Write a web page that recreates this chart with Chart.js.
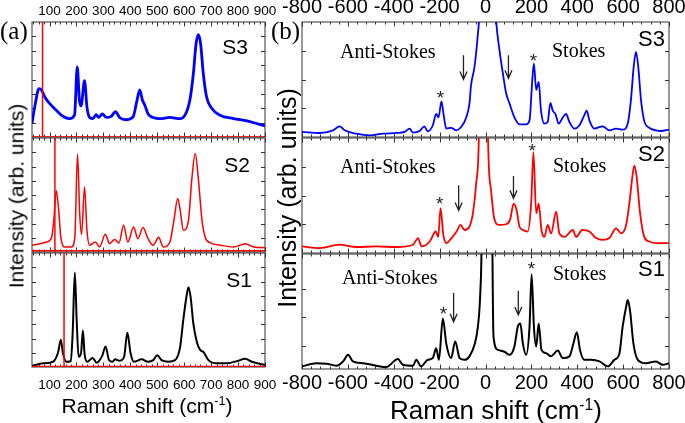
<!DOCTYPE html>
<html><head><meta charset="utf-8">
<script src="https://cdn.jsdelivr.net/npm/chart.js@4.4.1/dist/chart.umd.min.js"></script>
<style>
html,body{margin:0;padding:0;background:#fff;}
body{width:685px;height:423px;overflow:hidden;position:relative;font-family:"Liberation Sans",Arial,sans-serif;color:#000}
canvas{position:absolute;left:0;top:0}
.t{position:absolute;white-space:nowrap;line-height:1}
.serif{font-family:"Liberation Serif","Times New Roman",serif}
sup{font-size:0.6em;vertical-align:0.6em;line-height:0}
</style></head><body>
<canvas id="a3" width="720" height="423"></canvas>
<canvas id="a2" width="720" height="423"></canvas>
<canvas id="a1" width="720" height="423"></canvas>
<canvas id="b3" width="720" height="423"></canvas>
<canvas id="b2" width="720" height="423"></canvas>
<canvas id="b1" width="720" height="423"></canvas>

<div class="t serif" style="left:0px;top:18px;font-size:25px">(a)</div>
<div class="t serif" style="left:271px;top:18px;font-size:25px">(b)</div>
<div class="t" style="left:16px;top:196px;font-size:21px;transform:translate(-50%,-50%) rotate(-90deg)">Intensity (arb. units)</div>
<div class="t" style="left:287px;top:198px;font-size:25px;transform:translate(-50%,-50%) rotate(-90deg)">Intensity (arb. units)</div>
<div class="t" style="left:147px;top:395px;font-size:21px;transform:translateX(-50%)">Raman shift (cm<sup>-1</sup>)</div>
<div class="t" style="left:496px;top:397px;font-size:26px;transform:translateX(-50%)">Raman shift (cm<sup>-1</sup>)</div>

<div class="t" style="right:437px;top:36px;font-size:21px">S3</div>
<div class="t" style="right:435px;top:154px;font-size:21px">S2</div>
<div class="t" style="right:433px;top:269px;font-size:21px">S1</div>
<div class="t" style="right:20px;top:28px;font-size:22px">S3</div>
<div class="t" style="right:20px;top:143px;font-size:22px">S2</div>
<div class="t" style="right:20px;top:258px;font-size:22px">S1</div>

<div class="t serif" style="left:340px;top:41px;font-size:20px">Anti-Stokes</div>
<div class="t serif" style="left:552px;top:40px;font-size:20px">Stokes</div>
<div class="t serif" style="left:340px;top:156px;font-size:20px">Anti-Stokes</div>
<div class="t serif" style="left:553px;top:155px;font-size:20px">Stokes</div>
<div class="t serif" style="left:342px;top:267px;font-size:20px">Anti-Stokes</div>
<div class="t serif" style="left:553px;top:263px;font-size:20px">Stokes</div>

<script>
// ---------- data: panel (a), Raman shift (cm-1) vs intensity ----------
const shiftRangeA = [35, 900];
const tickStepA = 100;
const specA_S3 = [[35,12],[45,26],[61,42],[70,41],[82,35],[101,29],[126,23],[150,18],[174,16],[193,19],[203,61],[211,32],[217,27],[230,49],[239,26],[249,17],[261,16],[273,19.5],[282,17],[296,20],[311,17],[329,18],[345,22],[360,17],[385,15],[410,17.4],[425,32],[435,41],[445,32],[454,27.6],[466,20],[485,17],[510,16],[547,17],[584,16],[603,19],[621,32],[634,55],[644,81],[653,89],[661,81],[671,55],[683,35],[702,25],[733,19],[783,16],[833,14],[870,11.6],[900,9.6]];
const specA_S2 = [[35,6],[64,7.3],[89,8.8],[108,13],[117,31],[125,54],[134,37],[142,13],[158,4.4],[182,4.4],[194,13],[204,86],[212,34],[219,15.5],[230,57],[239,19],[249,6],[270,8.8],[286,4.4],[307,15.5],[323,7.3],[342,11],[358,8],[375,23.5],[391,8.8],[412,22],[428,11.7],[447,21.4],[466,11.7],[485,6],[505,13],[522,4.4],[547,8.8],[562,28],[576,47],[585,37],[597,19],[616,28],[628,63],[641,86.5],[653,63],[666,28],[678,13],[697,8],[734,6],[783,4.4],[827,7.3],[858,4.4],[900,3.8]];
const specA_S1 = [[35,1],[76,3.2],[113,4.6],[132,13],[142,24],[150,12],[163,4.6],[179,5],[186,30],[194,83],[201,40],[208,9],[217,12],[224,32],[230,12],[240,4.6],[260,8],[275,3.8],[296,10],[308,18],[321,6],[334,4.6],[343,6.7],[361,5.5],[377,9],[389,30],[401,12],[413,4.6],[442,6.7],[466,4.6],[485,6],[500,10.4],[516,6],[541,4.6],[566,6],[585,17.7],[597,42],[610,64],[616,70],[624,61],[634,38],[647,22],[659,15],[672,13],[690,6],[721,3.2],[758,3.2],[801,5.5],[826,7.2],[851,4.6],[900,1.7]];
const cutoffA = [74, 120, 154];      // red vertical markers S3, S2, S1
const baselineA = [0, 1, 0.5];       // red horizontal baselines S3, S2, S1

// ---------- data: panel (b), Stokes / anti-Stokes ----------
const shiftRangeB = [-800, 800];
const tickStepB = 200;
const specB_S3 = [[-800,4.4],[-723,3.5],[-665,5.8],[-636,9.3],[-614,5.8],[-564,2.9],[-505,1.5],[-447,2.9],[-389,3.5],[-353,4.4],[-331,7.3],[-316,3.8],[-287,5.2],[-267,9.3],[-252,5],[-230,10],[-215,20],[-205,17],[-192,31],[-183,20],[-171,7.3],[-150,8],[-128,5.8],[-106,8.7],[-84,17],[-70,29],[-63,45],[-48,61],[-33,90],[-26,110],[-15,200],[0,300],[15,250],[35,150],[47,100],[61,75.6],[76,55],[90,38],[105,29],[126,17],[148,11],[177,11],[192,14.5],[203,46.5],[211,64],[221,41],[232,48],[242,23],[257,11.6],[271,13],[283,29.6],[293,23],[305,20],[319,11.6],[337,17],[351,20],[366,13],[388,7.3],[409,10],[431,19],[441,23],[453,14.5],[474,7.3],[511,9.3],[540,5.8],[569,7.3],[598,6.4],[620,11.6],[634,32],[646,61],[656,74],[666,61],[678,32],[692,14],[714,8],[743,5.8],[765,5.2],[800,6.4]];
const specB_S2 = [[-800,5.7],[-723,4.3],[-636,7.2],[-564,5.2],[-476,5.7],[-389,5.2],[-316,7.2],[-294,13],[-279,5.7],[-243,10],[-217,18.7],[-206,14],[-196,39],[-184,16],[-170,8.6],[-148,13],[-126,18.7],[-109,24.4],[-91,20],[-70,23],[-55,34.5],[-41,60],[-29,100],[-20,250],[-5,300],[5,250],[11,100],[24,55],[38,30],[60,24.4],[90,25],[107,29],[123,43],[136,37],[148,23],[163,20],[184,18.7],[199,43],[209,87.6],[221,34.5],[232,43],[244,20],[257,14],[271,24.4],[286,17],[308,36],[322,17],[344,14],[381,20],[395,14],[422,20],[453,18.7],[482,13],[511,11.5],[540,13],[569,21.5],[591,17],[613,24.4],[627,43],[642,69],[649,76],[659,66],[674,34.5],[692,14],[714,10],[743,8.6],[800,8.6]];
const specB_S1 = [[-800,2.3],[-737,5],[-693,4.6],[-650,2.9],[-621,6.6],[-599,12.3],[-578,6.6],[-534,5],[-476,2.9],[-433,1.7],[-382,8.6],[-360,3.7],[-316,2.9],[-302,8],[-281,2.3],[-252,8],[-230,9.5],[-215,18],[-203,8],[-186,44],[-171,22],[-150,9.5],[-132,24],[-113,9.5],[-91,8],[-70,11],[-48,21],[-33,37],[-23,65],[-17,110],[-10,300],[25,300],[30,110],[35,28],[54,16.6],[83,15],[105,12.3],[126,19.5],[141,37],[152,39.5],[163,22],[177,12.3],[192,37],[201,82.5],[211,37],[221,19.5],[232,39.5],[244,16.6],[264,13.8],[286,11],[315,16],[337,9.5],[366,11],[383,22],[398,32],[412,16.6],[431,8],[460,8],[497,6.6],[533,2.3],[562,8],[584,13.8],[598,37],[613,54],[620,60],[630,51],[645,22],[664,8],[700,5],[743,6.6],[772,3.7],[800,5]];
// annotation marks (asterisks and arrows), in data units
const marksB_S3 = [{kind:'star',x:-196,y:38},{kind:'star',x:209,y:70},{kind:'arrow',x:-96,y1:71,y2:50},{kind:'arrow',x:100,y1:71,y2:51}];
const marksB_S2 = [{kind:'star',x:-200,y:47},{kind:'star',x:204,y:93},{kind:'arrow',x:-117,y1:59,y2:37},{kind:'arrow',x:122,y1:67,y2:47.5}];
const marksB_S1 = [{kind:'star',x:-183,y:52},{kind:'star',x:200,y:91},{kind:'arrow',x:-139,y1:66,y2:41},{kind:'arrow',x:143,y1:68,y2:47}];

// ---------- rendering ----------
const W = 720, H = 423;
Chart.defaults.font.family = '"Liberation Sans", Arial, sans-serif';
Chart.defaults.color = '#000';

const framePlugin = {
  id: 'frame',
  beforeDatasetsDraw(chart, args, o) {
    const {ctx, chartArea: a, scales: {x, y}} = chart;
    ctx.save();
    ctx.strokeStyle = o.color; ctx.lineWidth = o.width;
    ctx.strokeRect(a.left, a.top, a.right - a.left, a.bottom - a.top);
    ctx.beginPath();
    const start = Math.ceil(x.min / o.xMinor) * o.xMinor;
    for (let v = start; v <= x.max + 1e-9; v += o.xMinor) {
      const px = Math.round(x.getPixelForValue(v)) + 0.5;
      const r = v / o.xMajor;
      const major = Math.abs(r - Math.round(r)) < 1e-6;
      const len = major ? o.majorLen : o.minorLen;
      ctx.moveTo(px, a.top); ctx.lineTo(px, a.top + len);
      ctx.moveTo(px, a.bottom); ctx.lineTo(px, a.bottom - len);
    }
    for (const v of o.yTicks) {
      const py = Math.round(y.getPixelForValue(v)) + 0.5;
      ctx.moveTo(a.left, py); ctx.lineTo(a.left + o.yLen, py);
      ctx.moveTo(a.right, py); ctx.lineTo(a.right - o.yLen, py);
    }
    ctx.stroke();
    ctx.restore();
  },
  afterDatasetsDraw(chart, args, o) {
    const {ctx, scales: {x, y}} = chart;
    ctx.save();
    ctx.fillStyle = '#222'; ctx.strokeStyle = '#222';
    for (const m of (o.marks || [])) {
      const px = x.getPixelForValue(m.x);
      if (m.kind === 'star') {
        const fs = 19;
        ctx.font = fs + 'px "Liberation Sans", Arial, sans-serif';
        ctx.textAlign = 'center'; ctx.textBaseline = 'alphabetic';
        ctx.fillText('*', px, y.getPixelForValue(m.y) + 0.57 * fs);
      } else {
        const y1 = y.getPixelForValue(m.y1), y2 = y.getPixelForValue(m.y2);
        ctx.lineWidth = 1.3;
        ctx.beginPath();
        ctx.moveTo(px, y1); ctx.lineTo(px, y2);
        ctx.moveTo(px - 3.5, y2 - 8); ctx.lineTo(px, y2); ctx.lineTo(px + 3.5, y2 - 8);
        ctx.stroke();
      }
    }
    ctx.restore();
  }
};

function lineDs(points, color, width, smooth) {
  return {data: points, borderColor: color, borderWidth: width, pointRadius: 0, fill: false,
          tension: 0, cubicInterpolationMode: smooth ? 'monotone' : 'default'};
}

function makeChart(id, c) {
  const ticksFont = {size: c.fontSize};
  const pos = c.labelPos || 'bottom';
  // the labelled x axis occupies a fixed band; the rest of the offset is layout padding
  const axisH = c.labelPos === 'top' ? c.box.t : (c.labelPos === 'bottom' ? 40 : 0);
  const pad = {left: c.box.l, right: W - c.box.r, top: c.box.t, bottom: H - c.box.b};
  if (c.labelPos === 'top') pad.top -= axisH;
  if (c.labelPos === 'bottom') pad.bottom -= axisH;
  return new Chart(document.getElementById(id), {
    type: 'line',
    data: {datasets: c.datasets},
    options: {
      responsive: false, animation: false, devicePixelRatio: 1,
      layout: {padding: pad},
      plugins: {legend: {display: false}, tooltip: {enabled: false},
        frame: {color: '#333', width: 1, xMajor: c.xMajor, xMinor: c.xMinor, majorLen: 4.5, minorLen: 2.5,
                yTicks: c.yTicks, yLen: 4, marks: c.marks}},
      scales: {
        x: {type: 'linear', min: c.xRange[0], max: c.xRange[1], position: pos,
            afterFit(s) { s.height = axisH; },
            grid: {display: false, drawTicks: false}, border: {display: false},
            ticks: {display: !!c.labelPos, stepSize: c.xMajor, includeBounds: false, autoSkip: false,
                    maxRotation: 0, font: ticksFont, color: '#000', padding: c.labelPad || 0}},
        y: {type: 'linear', min: c.yMin, max: c.yMax, afterFit(s) { s.width = 0; },
            grid: {display: false, drawTicks: false}, border: {display: false}, ticks: {display: false}}
      }
    },
    plugins: [framePlugin]
  });
}

const boxA = [{l:32,r:265,t:22,b:137},{l:32,r:265,t:138,b:252},{l:32,r:265,t:253,b:367}];
const boxB = [{l:302,r:669,t:22,b:137},{l:302,r:669,t:138,b:253},{l:302,r:669,t:254,b:369}];
const specsA = [specA_S3, specA_S2, specA_S1];
const colorsA = ['#0000ff', '#ff0000', '#000000'];
const widthsA = [2.8, 1.5, 2];
['a3','a2','a1'].forEach((id, i) => {
  makeChart(id, {
    box: boxA[i], xRange: shiftRangeA, xMajor: tickStepA, xMinor: 20, yMin: 0, yMax: 100,
    yTicks: [12.5, 25, 37.5, 50, 62.5, 75, 87.5],
    labelPos: i === 0 ? 'top' : (i === 2 ? 'bottom' : null), labelPad: i === 0 ? 3 : 10, fontSize: 13.5,
    datasets: [
      lineDs([[cutoffA[i], 0], [cutoffA[i], 100]], '#ff0000', 1.5, false),
      lineDs([[shiftRangeA[0], baselineA[i]], [shiftRangeA[1], baselineA[i]]], '#ff0000', 1.5, false),
      lineDs(specsA[i], colorsA[i], widthsA[i], true)
    ]
  });
});

const specsB = [specB_S3, specB_S2, specB_S1];
const marksB = [marksB_S3, marksB_S2, marksB_S1];
const colorsB = ['#0000ff', '#ff0000', '#000000'];
const widthsB = [1.8, 1.8, 2];
const yTicksB = [[25,50,75],[25,50,75],[20,45,70]];
['b3','b2','b1'].forEach((id, i) => {
  makeChart(id, {
    box: boxB[i], xRange: shiftRangeB, xMajor: tickStepB, xMinor: 40, yMin: 0, yMax: 100,
    yTicks: yTicksB[i], marks: marksB[i],
    labelPos: i === 0 ? 'top' : (i === 2 ? 'bottom' : null), labelPad: 2.5, fontSize: 20,
    datasets: [lineDs(specsB[i], colorsB[i], widthsB[i], true)]
  });
});
</script>
</body></html>
